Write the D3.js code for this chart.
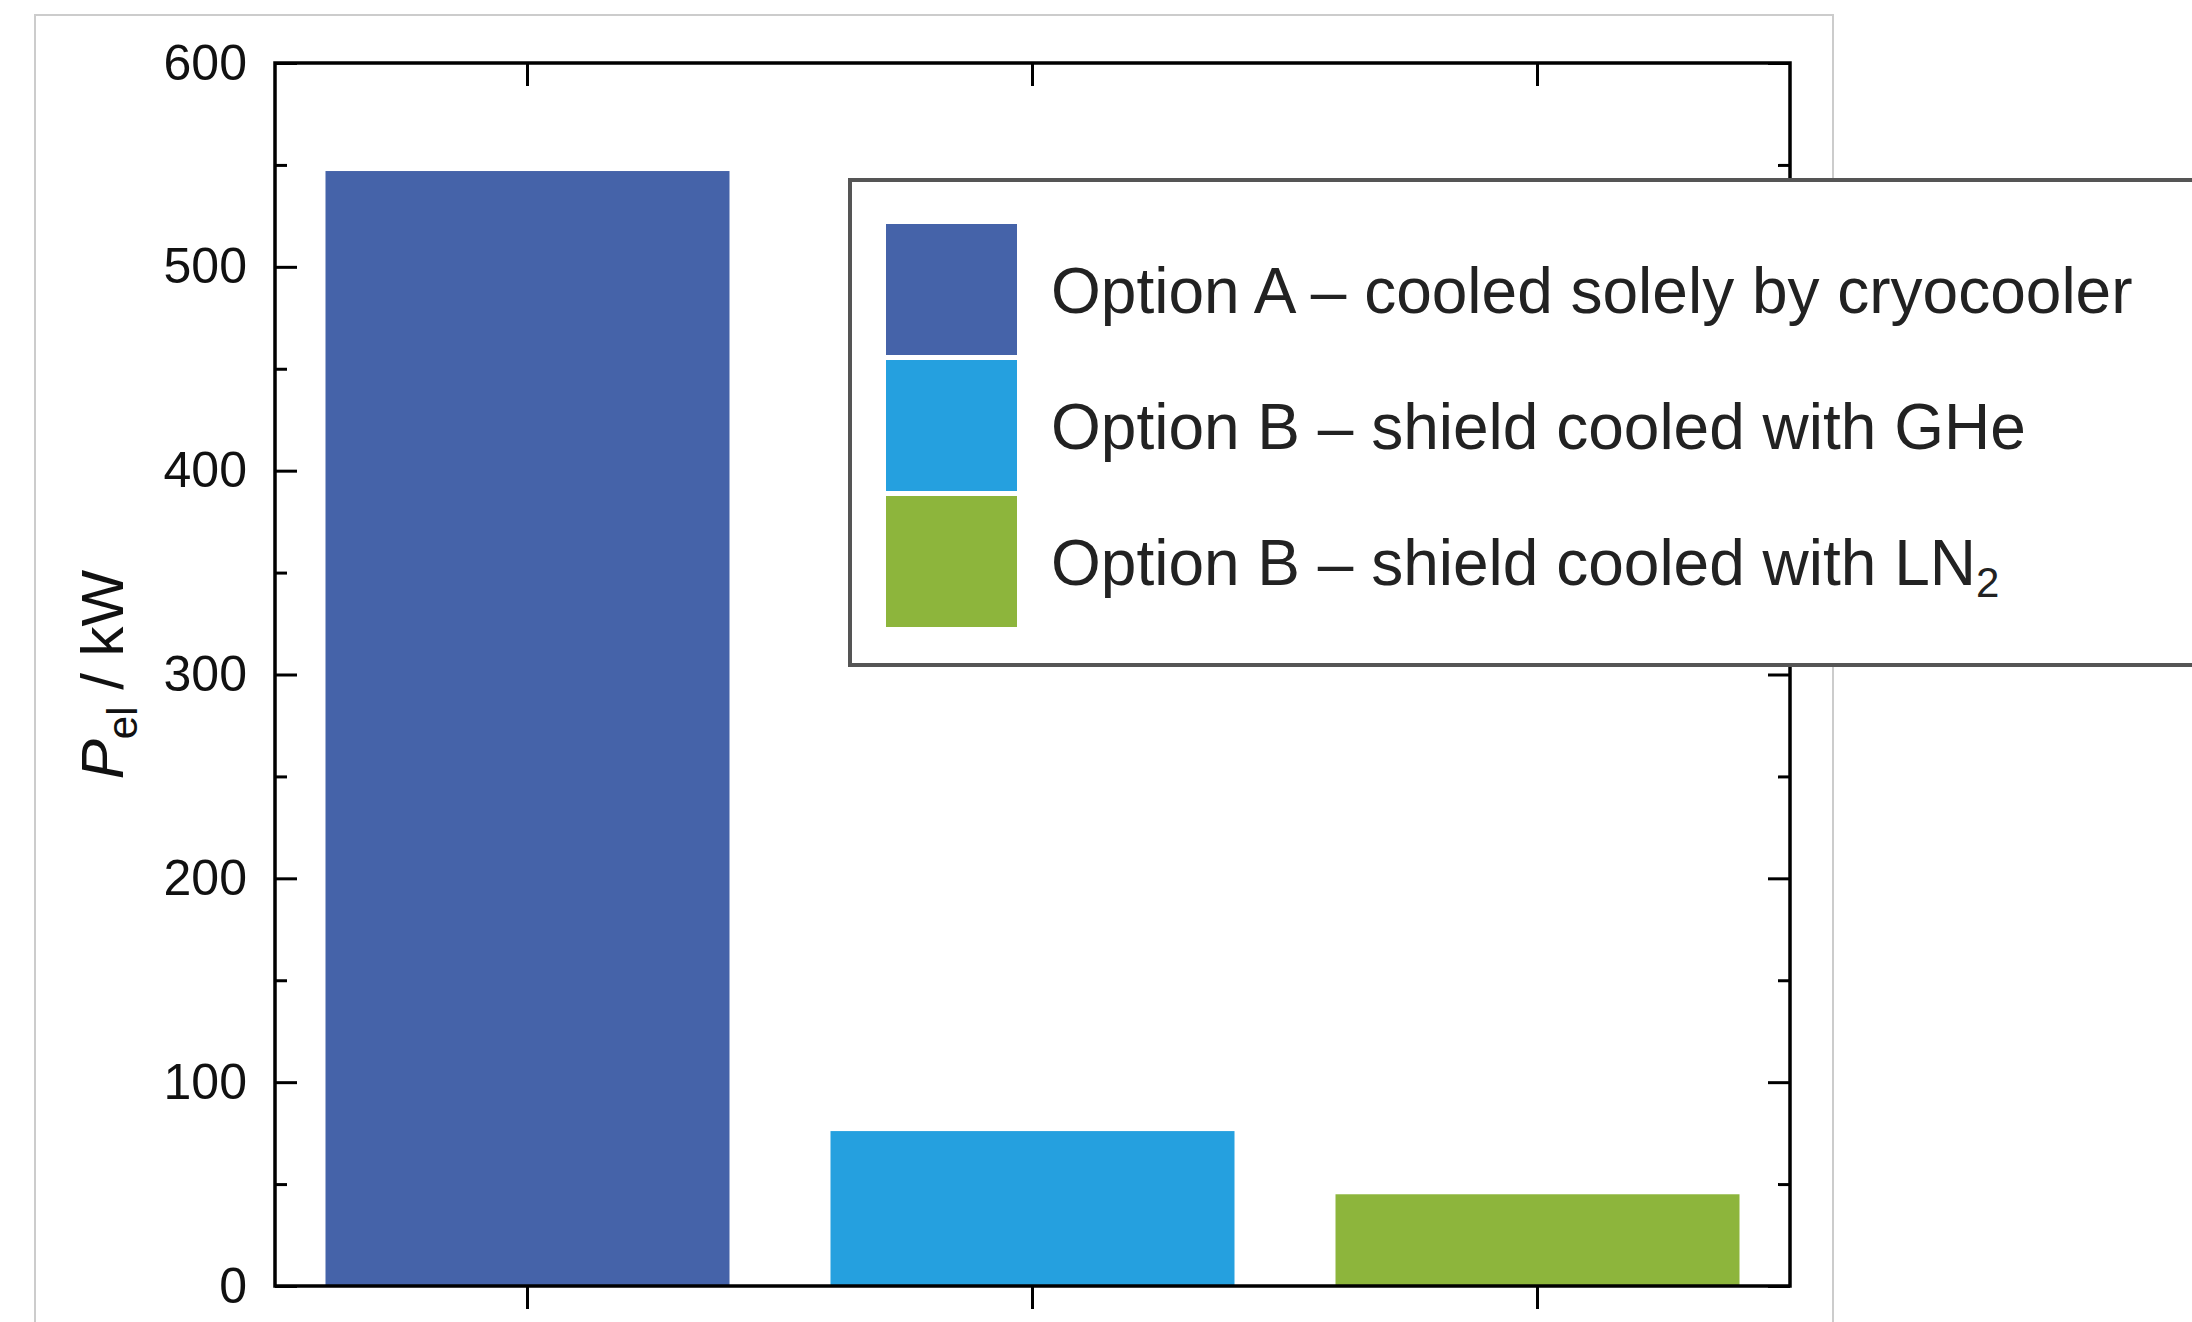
<!DOCTYPE html>
<html>
<head>
<meta charset="utf-8">
<script src="https://cdn.jsdelivr.net/npm/d3@7"></script>
<style>
  html, body { margin: 0; padding: 0; background: #ffffff; }
  svg { display: block; }
  text { font-family: "Liberation Sans", Arial, Helvetica, sans-serif; }
</style>
</head>
<body>
<script>
// Electrical power demand for the three shield-cooling options
const categories = ["Option A", "Option B GHe", "Option B LN2"];
const values = [547, 76, 45];
const barColors = ["#4563a9", "#25a0df", "#8db53c"];
const legendLabels = [
  ["Option A \u2013 cooled solely by cryocooler", ""],
  ["Option B \u2013 shield cooled with GHe", ""],
  ["Option B \u2013 shield cooled with LN", "2"]
];
const yMajorTicks = [0, 100, 200, 300, 400, 500, 600];
const yMinorTicks = [50, 150, 250, 350, 450, 550];

const W = 2192, H = 1322;
const plot = { left: 275, right: 1790, top: 63, bottom: 1286 };

const svg = d3.select("body").append("svg")
  .attr("width", W).attr("height", H);

// light page frame around the figure
svg.append("rect")
  .attr("x", 35).attr("y", 15)
  .attr("width", 1798).attr("height", 1400)
  .attr("fill", "none").attr("stroke", "#cccccc").attr("stroke-width", 2);

const x = d3.scaleBand()
  .domain(categories)
  .range([plot.left, plot.right])
  .paddingInner(0.2).paddingOuter(0.1);

const y = d3.scaleLinear()
  .domain([0, 600])
  .range([plot.bottom, plot.top]);

// bars
svg.append("g").selectAll("rect")
  .data(values)
  .join("rect")
  .attr("x", (d, i) => x(categories[i]))
  .attr("width", x.bandwidth())
  .attr("y", d => y(d))
  .attr("height", d => y(0) - y(d))
  .attr("fill", (d, i) => barColors[i]);

function styleAxis(g, width) {
  g.select(".domain").remove();
  g.selectAll(".tick line").attr("stroke", "#000").attr("stroke-width", width);
}

// left axis: labelled major ticks and minor ticks, both pointing inward
svg.append("g")
  .attr("transform", `translate(${plot.left},0)`)
  .call(d3.axisLeft(y).tickValues(yMajorTicks).tickSizeInner(-22).tickSizeOuter(0).tickPadding(28)
        .tickFormat(d3.format("d")))
  .call(g => styleAxis(g, 3))
  .call(g => g.selectAll(".tick text")
    .attr("font-size", 50).attr("fill", "#111")
    .attr("font-family", "'Liberation Sans', Arial, sans-serif"));

svg.append("g")
  .attr("transform", `translate(${plot.left},0)`)
  .call(d3.axisLeft(y).tickValues(yMinorTicks).tickSizeInner(-12).tickSizeOuter(0).tickFormat(""))
  .call(g => styleAxis(g, 3));

// right axis mirrors the ticks without labels
svg.append("g")
  .attr("transform", `translate(${plot.right},0)`)
  .call(d3.axisRight(y).tickValues(yMajorTicks).tickSizeInner(-22).tickSizeOuter(0).tickFormat(""))
  .call(g => styleAxis(g, 3));

svg.append("g")
  .attr("transform", `translate(${plot.right},0)`)
  .call(d3.axisRight(y).tickValues(yMinorTicks).tickSizeInner(-12).tickSizeOuter(0).tickFormat(""))
  .call(g => styleAxis(g, 3));

// category ticks: outward at the bottom, inward at the top
svg.append("g")
  .attr("transform", `translate(0,${plot.bottom})`)
  .call(d3.axisBottom(x).tickSizeInner(23).tickSizeOuter(0).tickFormat(""))
  .call(g => styleAxis(g, 3));

svg.append("g")
  .attr("transform", `translate(0,${plot.top})`)
  .call(d3.axisTop(x).tickSizeInner(-23).tickSizeOuter(0).tickFormat(""))
  .call(g => styleAxis(g, 3));

// plot frame
svg.append("rect")
  .attr("x", plot.left).attr("y", plot.top)
  .attr("width", plot.right - plot.left).attr("height", plot.bottom - plot.top)
  .attr("fill", "none").attr("stroke", "#000").attr("stroke-width", 3.5);

// y-axis title: P_el / kW
const yTitle = svg.append("text")
  .attr("transform", `translate(123,${(plot.top + plot.bottom) / 2}) rotate(-90)`)
  .attr("text-anchor", "middle")
  .attr("font-size", 60)
  .attr("fill", "#111");
yTitle.append("tspan").attr("font-style", "italic").text("P");
yTitle.append("tspan").attr("font-size", 42).attr("dy", 14).text("el");
yTitle.append("tspan").attr("dy", -14).text(" / kW");

// legend
const legend = svg.append("g");
legend.append("rect")
  .attr("x", 850).attr("y", 180)
  .attr("width", 1400).attr("height", 485)
  .attr("fill", "#ffffff").attr("stroke", "#555555").attr("stroke-width", 4);

const rowStep = 136, swatch = 131, firstRow = 224;
const rows = legend.selectAll("g.entry")
  .data(legendLabels)
  .join("g")
  .attr("class", "entry")
  .attr("transform", (d, i) => `translate(886,${firstRow + i * rowStep})`);

rows.append("rect")
  .attr("width", swatch).attr("height", swatch)
  .attr("fill", (d, i) => barColors[i]);

const labels = rows.append("text")
  .attr("x", 165)
  .attr("y", swatch / 2 + 23)
  .attr("font-size", 64)
  .attr("fill", "#222");
labels.append("tspan").text(d => d[0]);
labels.filter(d => d[1] !== "").append("tspan")
  .attr("font-size", 42).attr("dy", 12).text(d => d[1]);
</script>
</body>
</html>
